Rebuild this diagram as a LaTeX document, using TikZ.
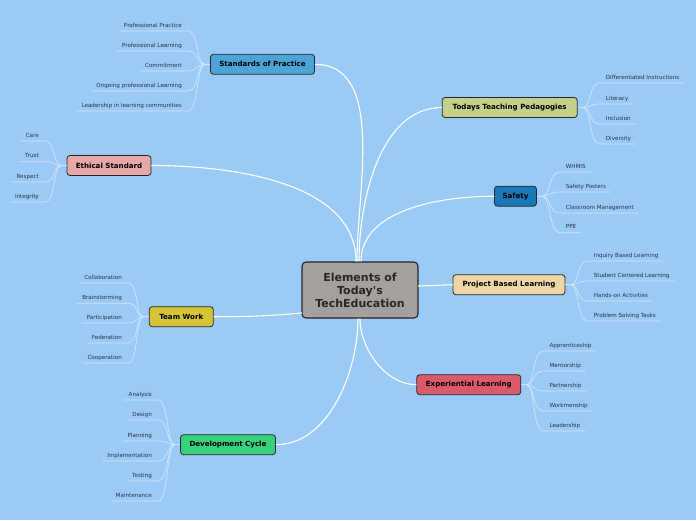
\documentclass[tikz,border=0pt]{standalone}
\usepackage{fontspec}
\setmainfont{DejaVu Sans}
\usetikzlibrary{calc}
\definecolor{bg}{RGB}{155,202,246}
\definecolor{ulc}{RGB}{208,230,251}
\definecolor{leafc}{RGB}{40,50,66}
\definecolor{cgray}{RGB}{165,160,157}
\definecolor{csop}{RGB}{76,165,214}
\definecolor{ceth}{RGB}{232,168,168}
\definecolor{cteam}{RGB}{214,196,54}
\definecolor{cdev}{RGB}{54,209,124}
\definecolor{cped}{RGB}{197,208,138}
\definecolor{csaf}{RGB}{26,120,184}
\definecolor{cpbl}{RGB}{239,214,166}
\definecolor{cexp}{RGB}{218,90,106}
\tikzset{
  leaf/.style={font=\fontsize{5.6}{6.5}\selectfont, text=leafc, inner sep=0pt},
  uline/.style={draw=ulc, line width=0.7pt},
  mainline/.style={draw=white, line width=1.1pt},
  branch/.style={draw=black!85, line width=0.8pt, rounded corners=3pt,
    font=\bfseries\fontsize{7.1}{8.5}\selectfont, inner xsep=4pt, minimum height=20pt},
  centre/.style={draw=black!85, line width=1.1pt, rounded corners=4pt, fill=cgray,
    font=\bfseries\fontsize{11}{13}\selectfont, text=black!85, align=center,
    minimum width=116pt, minimum height=56pt}
}
\newcommand{\lleaf}[5]{%
  \node[leaf, anchor=base east] (#1) at (#3,#4+2) {#5};
  \coordinate (#1-a) at ($(#1.base west)+(-5,4)$);
  \coordinate (#1-b) at ($(#1.base east)+(6,4)$);
  \draw[uline] (#1-a) -- (#1-b) .. controls +(11,0) and +(-9,0) .. (#2-in);
}
\newcommand{\rleaf}[5]{%
  \node[leaf, anchor=base west] (#1) at (#3,#4+2) {#5};
  \coordinate (#1-a) at ($(#1.base west)+(-6,4)$);
  \coordinate (#1-b) at ($(#1.base east)+(5,4)$);
  \draw[uline] (#2-out) .. controls +(9,0) and +(-11,0) .. (#1-a) -- (#1-b);
}
\begin{document}
\begin{tikzpicture}[x=1pt,y=-1pt]
\fill[bg] (0,0) rectangle (696,520);
\useasboundingbox (0,0) rectangle (696,520);

\coordinate (cleft) at (302,313);
\coordinate (cright) at (418,286);

\node[centre] (c) at (360,290) {Elements of\\Today\textquotesingle s\\TechEducation};

\node[branch, fill=csop, minimum width=104pt] (sop) at (262.5,64.3) {Standards of Practice};
\node[branch, fill=ceth, minimum width=84pt] (eth) at (109,165.5) {Ethical Standard};
\node[branch, fill=cteam, minimum width=64pt] (team) at (181.3,316.7) {Team Work};
\node[branch, fill=cdev, minimum width=95pt] (dev) at (228,444.7) {Development Cycle};
\node[branch, fill=cped, minimum width=135pt] (ped) at (509.7,107.5) {Todays Teaching Pedagogies};
\node[branch, fill=csaf, minimum width=42pt] (saf) at (515.5,196.2) {Safety};
\node[branch, fill=cpbl, minimum width=112pt] (pbl) at (509,284.7) {Project Based Learning};
\node[branch, fill=cexp, minimum width=104pt] (exp) at (468.8,384.7) {Experiential Learning};

\draw[mainline] ([xshift=-3pt]c.north) to[out=90,in=0,looseness=0.9] (sop.east);
\draw[mainline] ([xshift=-4pt]c.north) to[out=90,in=0,looseness=0.9] (eth.east);
\draw[mainline] (cleft) to[out=185,in=0] (team.east);
\draw[mainline] ([xshift=-2pt]c.south) to[out=-90,in=0,looseness=0.9] (dev.east);
\draw[mainline] ([xshift=-1pt]c.north) to[out=90,in=180,looseness=0.9] (ped.west);
\draw[mainline] ([xshift=1pt]c.north) to[out=90,in=180,looseness=0.9] (saf.west);
\draw[mainline] (cright) -- (pbl.west);
\draw[mainline] ([xshift=0pt]c.south) to[out=-90,in=180,looseness=0.9] (exp.west);

\foreach \n in {sop,eth,team,dev}{
  \coordinate (\n-in) at ($(\n.west)+(-5,0)$);
  \draw[uline] (\n-in) -- (\n.west);
}
\foreach \n in {ped,saf,pbl,exp}{
  \coordinate (\n-out) at ($(\n.east)+(5,0)$);
  \draw[uline] (\n.east) -- (\n-out);
}

% Standards of Practice
\lleaf{s1}{sop}{182}{25}{Professional Practice}
\lleaf{s2}{sop}{182}{45}{Professional Learning}
\lleaf{s3}{sop}{182}{65}{Commitment}
\lleaf{s4}{sop}{182}{85}{Ongoing professional Learning}
\lleaf{s5}{sop}{182}{105}{Leadership in learning communities}

% Ethical Standard
\lleaf{e1}{eth}{39}{135}{Care}
\lleaf{e2}{eth}{39}{155.7}{Trust}
\lleaf{e3}{eth}{39}{176}{Respect}
\lleaf{e4}{eth}{39}{196}{Integrity}

% Team Work
\lleaf{t1}{team}{122}{277}{Collaboration}
\lleaf{t2}{team}{122}{297.3}{Brainstorming}
\lleaf{t3}{team}{122}{317}{Participation}
\lleaf{t4}{team}{122}{337}{Federation}
\lleaf{t5}{team}{122}{357}{Cooperation}

% Development Cycle
\lleaf{d1}{dev}{152}{394}{Analysis}
\lleaf{d2}{dev}{152}{414}{Design}
\lleaf{d3}{dev}{152}{435}{Planning}
\lleaf{d4}{dev}{152}{455}{Implementation}
\lleaf{d5}{dev}{152}{475}{Testing}
\lleaf{d6}{dev}{152}{495}{Maintenance}

% Todays Teaching Pedagogies
\rleaf{p1}{ped}{605.7}{77}{Differentiated Instructions}
\rleaf{p2}{ped}{605.7}{98}{Literacy}
\rleaf{p3}{ped}{605.7}{118}{Inclusion}
\rleaf{p4}{ped}{605.7}{138}{Diversity}

% Safety
\rleaf{f1}{saf}{565.7}{166}{WHMIS}
\rleaf{f2}{saf}{565.7}{186}{Safety Posters}
\rleaf{f3}{saf}{565.7}{207}{Classroom Management}
\rleaf{f4}{saf}{565.7}{226.7}{PPE}

% Project Based Learning
\rleaf{b1}{pbl}{593.7}{255}{Inquiry Based Learning}
\rleaf{b2}{pbl}{593.7}{275}{Student Centered Learning}
\rleaf{b3}{pbl}{593.7}{295}{Hands-on Activities}
\rleaf{b4}{pbl}{593.7}{315}{Problem Solving Tasks}

% Experiential Learning
\rleaf{x1}{exp}{549.3}{345}{Apprenticeship}
\rleaf{x2}{exp}{549.3}{365}{Mentorship}
\rleaf{x3}{exp}{549.3}{385}{Partnership}
\rleaf{x4}{exp}{549.3}{405}{Workmenship}
\rleaf{x5}{exp}{549.3}{425}{Leadership}
\end{tikzpicture}
\end{document}
